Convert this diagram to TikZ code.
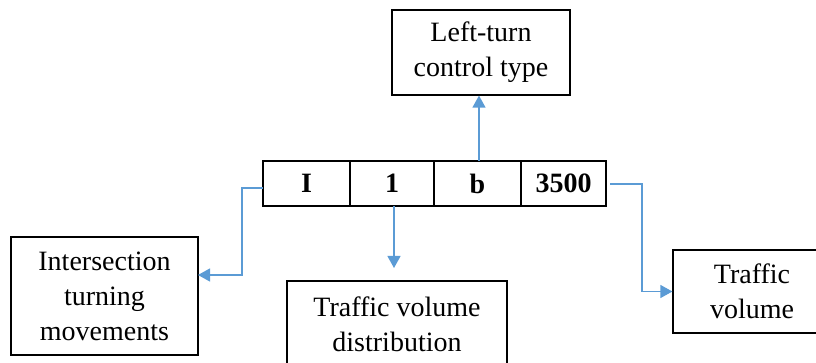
\documentclass[tikz,border=0pt]{standalone}
\usepackage{fontspec}
\setmainfont{Liberation Serif}
\usetikzlibrary{positioning}
\usetikzlibrary{arrows.meta}

\definecolor{linkblue}{RGB}{91,155,213}

\begin{document}
\begin{tikzpicture}[
        x=1pt,
        y=-1pt,
        field/.style={
            draw,
            line width=1.2pt,
            minimum height=45pt,
            inner sep=0pt,
            outer sep=0pt,
            font=\fontsize{28}{35}\selectfont\bfseries,
        },
        meaning/.style={
            draw,
            line width=1.2pt,
            inner sep=0pt,
            align=center,
            font=\fontsize{28}{35}\selectfont,
        },
        link/.style={
            -{Triangle[length=12pt,width=13pt]},
            line width=1.2pt,
            linkblue,
        },
    ]
    \useasboundingbox (0,0) rectangle (816,363);

    % Define the code fields.
    \node[field, minimum width=87pt] (cellI) at (306.5,183.5) {I};
    \node[field, minimum width=84pt, right=0pt of cellI] (cell1) {1};
    \node[field, minimum width=87pt, right=0pt of cell1] (cellb) {b};
    \node[field, minimum width=85pt, right=0pt of cellb] (cell3500) {3500};

    % Define the meaning boxes.
    \node[meaning, minimum width=178pt, minimum height=85pt] (leftturn) at (481,52.5) {Left-turn\\control type};
    \node[meaning, minimum width=187pt, minimum height=118pt] (turning) at (104.5,296) {Intersection\\turning\\movements};
    \node[meaning, minimum width=220pt, minimum height=86pt] (distribution) at (397,324) {Traffic volume\\distribution};
    \node[meaning, minimum width=158pt, minimum height=83pt] (volume) at (752,291.5) {Traffic\\volume};

    % Bends and free ends.
    \coordinate (bendI) at (242,188);
    \coordinate (turnIn) at (198,275);
    \coordinate (distTip) at ([xshift=2pt]cell1.south |- {0,268});
    \coordinate (bendV) at (642,184);

    % Draw links.
    \draw[link] ([xshift=1.5pt]cellb.north) -- ([xshift=1.5pt]cellb.north |- leftturn.south);
    \draw[link] ([xshift=2pt]cell1.south) -- (distTip);
    \draw[link] (cellI.west |- bendI) -- (bendI) |- (turnIn);
    \draw[link] ([xshift=4pt]cell3500.east |- bendV) -- (bendV) |- (volume.west);

\end{tikzpicture}
\end{document}
